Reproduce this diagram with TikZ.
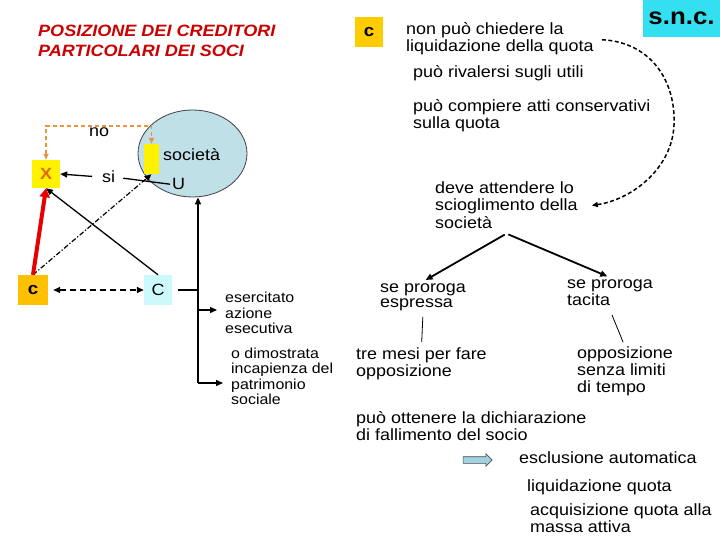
\documentclass[tikz,border=0pt]{standalone}
\usepackage{fontspec}
\setmainfont{Liberation Sans}[FakeStretch=1.1]
\usetikzlibrary{arrows.meta,shapes.geometric,shapes.arrows}
\definecolor{cred}{RGB}{204,0,0}
\definecolor{cgold}{RGB}{255,204,0}
\definecolor{cgoldb}{RGB}{255,192,0}
\definecolor{csnc}{RGB}{51,224,240}
\definecolor{cell}{RGB}{190,224,230}
\definecolor{clcyan}{RGB}{204,250,252}
\definecolor{cxx}{RGB}{225,105,20}
\definecolor{codash}{RGB}{230,150,60}
\definecolor{cbarrow}{RGB}{160,210,225}
\newcommand\myfs[2]{\fontsize{#1}{#2}\selectfont}
\newcommand\mt{\myfs{16.3}{17}}
\begin{document}
\begin{tikzpicture}[x=1pt,y=-1pt,
  tx/.style={anchor=north west,inner sep=0pt,align=left},
  tl/.style={anchor=base west,inner sep=0pt},
  arr/.style={-{Triangle[length=7pt,width=6pt]},line width=1.3pt},
  boxn/.style={minimum width=28pt,minimum height=30pt,inner sep=0pt},
  odash/.style={draw=codash,line width=1.5pt,dash pattern=on 4pt off 3pt,
    {Triangle[length=6pt,width=5pt]}-{Triangle[length=6pt,width=5pt]}},
  curvedash/.style={line width=1.5pt,dash pattern=on 4pt off 2.5pt,-{Triangle[length=6pt,width=5pt]}},
]
\useasboundingbox (0,0) rectangle (720,540);

% ---- title
\node[tx,text=cred,font=\myfs{16.4}{20}\bfseries\itshape] (title) at (38,22)
  {\strut POSIZIONE DEI CREDITORI\\\strut PARTICOLARI DEI SOCI};

% ---- right column texts
\node[boxn,fill=cgold,font=\myfs{17}{17}\bfseries] (ctop) at (369,32) {c};
\node[tx,font=\mt] (non) at (406,22.1) {\strut non può chiedere la\\\strut liquidazione della quota};
\node[minimum width=77pt,minimum height=37pt,inner sep=0pt,fill=csnc,font=\myfs{23.5}{26}\bfseries] (snc) at (681.5,18.5) {s.n.c.};
\node[tl,font=\mt] (rival) at (413,78) {può rivalersi sugli utili};
\node[tx,font=\myfs{16.3}{16}] (comp) at (413,98.8) {\strut può compiere atti conservativi\\\strut sulla quota};
\node[tx,font=\mt] (deve) at (435,181.1) {\strut deve attendere lo\\\strut scioglimento della\\\strut società};
\node[tx,font=\myfs{16.3}{15}] (esp) at (380,281.5) {\strut se proroga\\\strut espressa};
\node[tx,font=\myfs{16.3}{15}] (tac) at (567,277.5) {\strut se proroga\\\strut tacita};
\node[tx,font=\myfs{16.3}{14}] (tre) at (356,347.2) {\strut tre mesi per fare\\\strut opposizione};
\node[tx,font=\myfs{16.3}{13}] (opp) at (577,346.9) {\strut opposizione\\\strut senza limiti\\\strut di tempo};
\node[tx,font=\mt] (fall) at (356,411.1) {\strut può ottenere la dichiarazione\\\strut di fallimento del socio};
\node[tl,font=\mt] (escl) at (519,463) {esclusione automatica};
\node[tl,font=\mt] (liq) at (527,491) {liquidazione quota};
\node[tx,font=\myfs{16.3}{15}] (acq) at (530,503.5) {\strut acquisizione quota alla\\\strut massa attiva};
\node[single arrow,draw=black!70,line width=0.6pt,fill=cbarrow,minimum height=29pt,minimum width=12pt,
  single arrow head extend=3pt,inner xsep=0pt,inner ysep=3pt] (barr) at (476,460) {};

% ---- left part
\node[tx,font=\myfs{14.5}{13}] (eser) at (225,291.9) {\strut esercitato\\\strut azione\\\strut esecutiva};
\node[tx,font=\myfs{14.5}{13.5}] (dimo) at (231,347.55) {\strut o dimostrata\\\strut incapienza del\\\strut patrimonio\\\strut sociale};

\node[ellipse,draw=black!75,line width=0.8pt,fill=cell,minimum width=109pt,minimum height=87pt,inner sep=0pt] (ell) at (192.5,153.5) {};
\node[fill=yellow,minimum width=15pt,minimum height=30pt,inner sep=0pt] (yr) at (151.5,159) {};
\node[tl,font=\mt] (soc) at (163,161) {società};
\node[tl,font=\mt] (U) at (172,190) {U};
\node[tl,font=\mt] (si) at (102,183) {si};
\node[tl,font=\mt] (no) at (89,137) {no};
\node[boxn,minimum height=28pt,fill=yellow,text=cxx,font=\mt\bfseries] (X) at (46,174) {X};
\node[boxn,minimum width=30pt,fill=cgoldb,font=\myfs{17}{17}\bfseries] (cL) at (33,290) {c};
\node[boxn,fill=clcyan,font=\mt] (CR) at (158,290) {C};

\coordinate (nt) at (100,126);
\coordinate (vC) at (198,290);
\coordinate (vm) at (198,310);
\coordinate (vb) at (198,383);

% ---- connectors left
\draw[odash] (X.north) |- (nt) -| (yr.north);
\draw[arr,shorten <=10pt] (si.west) -- (X.east);
\draw[line width=1.3pt,shorten <=8pt,shorten >=2pt] (si.east) -- (U.west);
\draw[line width=1.2pt,dash pattern=on 5pt off 2pt on 1.2pt off 2pt,-{Triangle[length=7pt,width=6pt]}] (cL.north) -- (yr.south);
\draw[line width=1.3pt,-{Triangle[length=7pt,width=6pt]}] (CR.north) -- (X.south);
\draw[draw={rgb,255:red,230;green,0;blue,0},line width=4pt,-{Triangle[length=9pt,width=10pt]}] (cL.north) -- (X.south);
\draw[line width=1.3pt,dash pattern=on 6pt off 4pt,{Triangle[length=7pt,width=6pt]}-{Triangle[length=7pt,width=6pt]},shorten <=5pt] (cL.east) -- (CR.west);
\draw[line width=1.5pt,shorten <=6pt] (CR.east) -- (vC);
\draw[arr] (vb) -- (vb |- ell.south);
\draw[arr,shorten >=8pt] (vm) -- (vm -| eser.west);
\draw[arr,shorten >=8pt] (vb) -- (vb -| dimo.west);

% ---- connectors right
\draw[curvedash,shorten <=8pt,shorten >=14pt] (non.east) .. controls (650,42) and (676,80) .. (674,125)
  .. controls (672,170) and (630,200) .. (deve.east);
\draw[arr,line width=1.8pt,shorten <=2pt,shorten >=3pt] (deve.south) -- (esp.north);
\draw[arr,line width=1.8pt,shorten <=2pt,shorten >=3pt] (deve.south) -- (tac.north);
\draw[line width=0.8pt,shorten <=5pt,shorten >=5pt] (esp.south) -- (tre.north);
\draw[line width=0.8pt,shorten <=5pt,shorten >=5pt] (tac.south) -- (opp.north);
\end{tikzpicture}
\end{document}
